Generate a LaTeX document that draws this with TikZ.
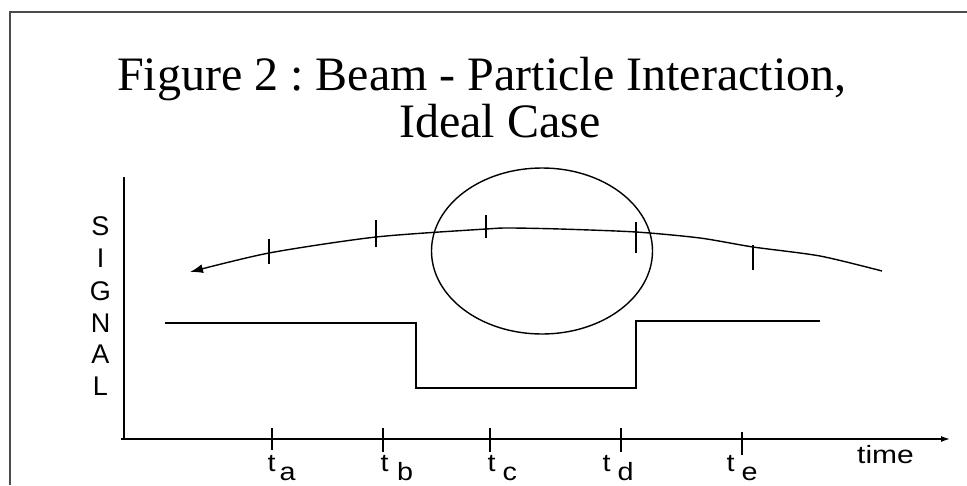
\documentclass[tikz,border=0pt]{standalone}
\usepackage{fontspec}
\setmainfont{Liberation Serif}
\newfontfamily\arialfont{Liberation Sans}
\usetikzlibrary{arrows.meta,shapes.geometric}
\frenchspacing
\tikzset{
  ln/.style={line width=1.4pt, black},
  frameline/.style={line width=2pt, draw=black!70},
  titletext/.style={font=\fontsize{48}{48}\selectfont, anchor=base west, inner sep=0pt},
  ticklab/.style={font=\arialfont\fontsize{25}{25}\selectfont, anchor=base west, inner sep=0pt},
  siglab/.style={font=\arialfont\fontsize{27}{27}\selectfont, anchor=base, inner sep=0pt},
  timelab/.style={font=\arialfont\fontsize{25}{25}\selectfont, anchor=base west, inner sep=0pt},
}
\newcommand{\lstretch}[1]{\scalebox{1.15}[1]{#1}}
\begin{document}
\begin{tikzpicture}[x=1pt,y=-1pt]
\useasboundingbox (0,0) rectangle (967,485);
% frame
\draw[frameline] (10,485) -- (10,12) -- (967,12);
% title
\node[titletext] (title1) at (117,90) {Figure 2 : Beam - Particle Interaction,};
\node[titletext] (title2) at (399,137) {Ideal Case};
% axes
\coordinate (xa0) at (121,439);
\coordinate (xa1) at (950,439);
\coordinate (ya0) at (124,439);
\coordinate (ya1) at (124,177);
\draw[ln,-{Latex[length=9pt,width=6pt]}] (xa0) -- (xa1);
\draw[ln] (ya0) -- (ya1);
% SIGNAL letters
\node[siglab] (sS) at (100.5,235) {S};
\node[siglab] (sI) at (100.5,267) {I};
\node[siglab] (sG) at (100.5,300) {G};
\node[siglab] (sN) at (100.5,332) {N};
\node[siglab] (sA) at (100.5,363) {A};
\node[siglab] (sL) at (100.5,395) {L};
% time label
\node[timelab] (time) at (857,463) {\scalebox{1.2}[1]{time}};
% axis ticks
\draw[ln] (272,428) -- (272,450);
\draw[ln] (383,428) -- (383,452);
\draw[ln] (490,428) -- (490,452);
\draw[ln] (621,428) -- (621,452);
\draw[ln] (742,432) -- (742,455);
% tick labels
\node[ticklab] (ta) at (267.5,471) {\lstretch{t}};
\node[ticklab] (tas) at (279.5,480) {\lstretch{a}};
\node[ticklab] (tb) at (380.5,471) {\lstretch{t}};
\node[ticklab] (tbs) at (397,480) {\lstretch{b}};
\node[ticklab] (tc) at (487.5,471) {\lstretch{t}};
\node[ticklab] (tcs) at (502.5,480) {\lstretch{c}};
\node[ticklab] (td) at (602.5,471) {\lstretch{t}};
\node[ticklab] (tds) at (617.5,480) {\lstretch{d}};
\node[ticklab] (te) at (726.5,471) {\lstretch{t}};
\node[ticklab] (tes) at (741.5,480) {\lstretch{e}};
% particle ellipse
\node[draw, ln, ellipse, minimum width=221pt, minimum height=166pt, inner sep=0pt] (ell) at (542,251) {};
% beam trajectory
\draw[ln,-{Latex[length=13pt,width=9pt]}] plot[smooth, tension=0.45] coordinates
 {(882,271) (820,256) (753,247) (700,238) (636,232) (560,229) (510,228) (486,229) (376,237) (269,253) (190,272)};
% trajectory ticks
\draw[ln] (269,239) -- (269,264);
\draw[ln] (376,220) -- (376,247);
\draw[ln] (486,215) -- (486,238);
\draw[ln] (636,222) -- (636,253);
\draw[ln] (753,245) -- (753,270);
% signal step
\coordinate (s0) at (165,323);
\coordinate (s1) at (416,323);
\coordinate (s2) at (416,388);
\coordinate (s3) at (636,388);
\coordinate (s4) at (636,321);
\coordinate (s5) at (820,321);
\draw[ln] (s0) -- (s1) -- (s2) -- (s3) -- (s4) -- (s5);
\end{tikzpicture}
\end{document}
